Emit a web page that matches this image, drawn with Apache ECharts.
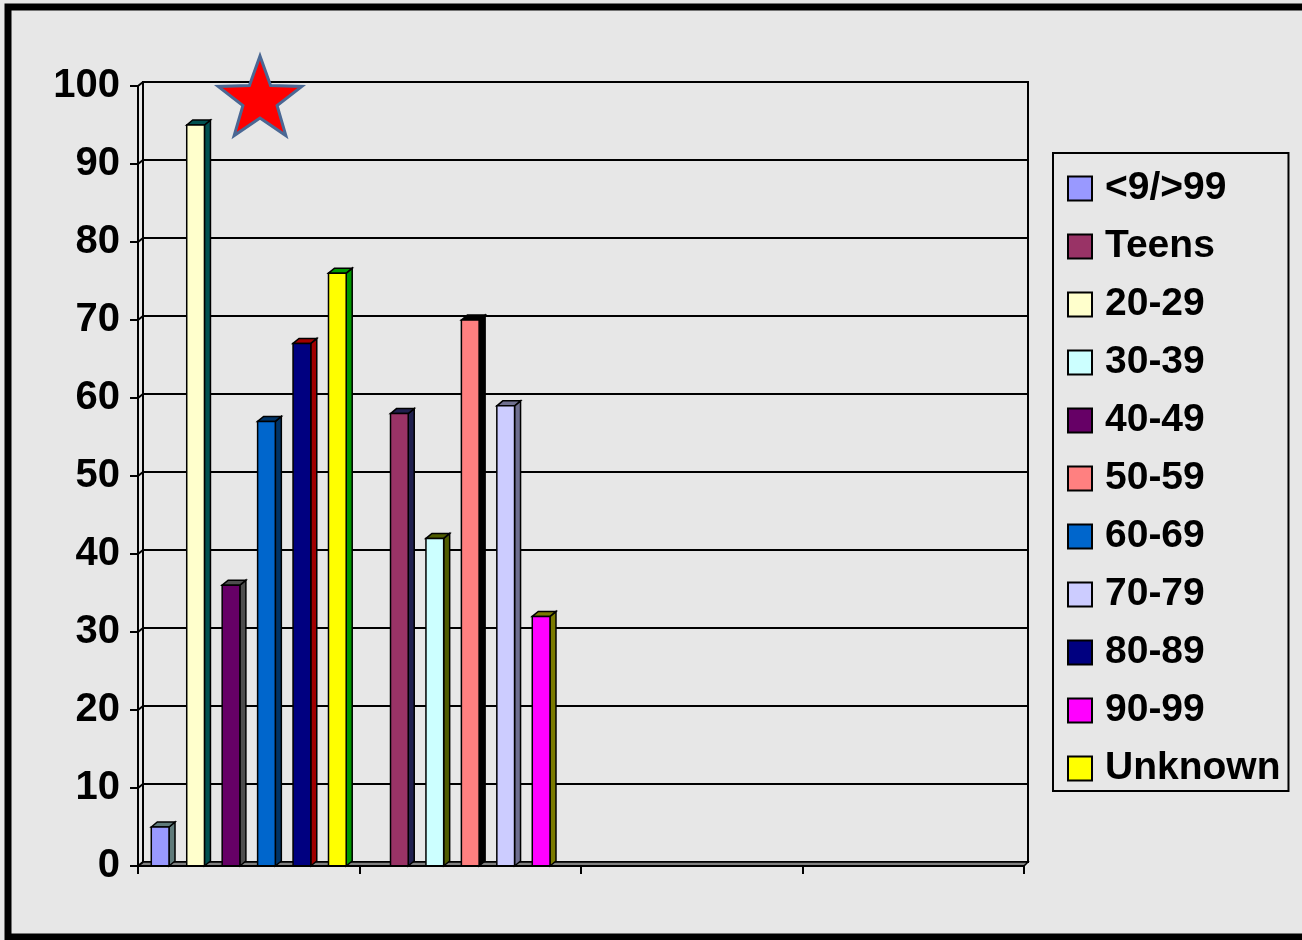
<!DOCTYPE html>
<html>
<head>
<meta charset="utf-8">
<title>Age groups</title>
<script src="https://cdn.jsdelivr.net/npm/echarts@6/dist/echarts.min.js"></script>
<style>
  html, body {
    margin: 0;
    padding: 0;
    background: #e7e7e7;
  }
  #main {
    width: 1302px;
    height: 940px;
  }
</style>
</head>
<body>
<div id="main"></div>
<script>
// data
var categories = ['1', '2', '3', '4'];
var seriesNames = ['<9/>99', 'Teens', '20-29', '30-39', '40-49', '50-59', '60-69', '70-79', '80-89', '90-99', 'Unknown'];
var under9 = [5, null, null, null];
var teens = [null, 58, null, null];
var age20 = [95, null, null, null];
var age30 = [null, 42, null, null];
var age40 = [36, null, null, null];
var age50 = [null, 70, null, null];
var age60 = [57, null, null, null];
var age70 = [null, 59, null, null];
var age80 = [67, null, null, null];
var age90 = [null, 32, null, null];
var unknown = [76, null, null, null];
var seriesValues = [under9, teens, age20, age30, age40, age50, age60, age70, age80, age90, unknown];
var yTicks = [0, 10, 20, 30, 40, 50, 60, 70, 80, 90, 100];

// colours: front face and side/top face
var frontColors = ['#9999ff', '#993366', '#ffffcc', '#ccffff', '#660066', '#ff8080', '#0066cc', '#ccccff', '#000080', '#ff00ff', '#ffff00'];
var sideColors = ['#5f7a7a', '#20204e', '#005050', '#4f5c00', '#4d4d4d', '#000000', '#003366', '#6f6f8f', '#a00000', '#7a7a00', '#009900'];

var FONT = 'Liberation Sans, Arial, sans-serif';
var GAP = 0.12;      // category gap share
var DX = 6, DY = 5;  // 3d depth

var chart = echarts.init(document.getElementById('main'));

function renderBar(params, api) {
  var v = api.value(1);
  if (v == null || isNaN(v)) {
    return;
  }
  var i = params.seriesIndex;
  var base = api.coord([api.value(0), 0]);
  var top = api.coord([api.value(0), v]);
  var band = api.size([1, 0])[0];
  var slot = band * (1 - GAP) / seriesNames.length;
  var x0 = base[0] - band * (1 - GAP) / 2 + i * slot;
  var x1 = x0 + slot;
  var stroke = { stroke: '#000', lineWidth: 1.5 };
  return {
    type: 'group',
    children: [
      {
        type: 'polygon',
        shape: { points: [[x1, top[1]], [x1 + DX, top[1] - DY], [x1 + DX, base[1] - DY], [x1, base[1]]] },
        style: Object.assign({ fill: sideColors[i] }, stroke)
      },
      {
        type: 'polygon',
        shape: { points: [[x0, top[1]], [x0 + DX, top[1] - DY], [x1 + DX, top[1] - DY], [x1, top[1]]] },
        style: Object.assign({ fill: sideColors[i] }, stroke)
      },
      {
        type: 'rect',
        shape: { x: x0, y: top[1], width: slot, height: base[1] - top[1] },
        style: Object.assign({ fill: frontColors[i] }, stroke)
      }
    ]
  };
}

var series = seriesNames.map(function (name, i) {
  var data = [];
  seriesValues[i].forEach(function (v, c) {
    if (v != null) {
      data.push([c, v]);
    }
  });
  return {
    name: name,
    type: 'custom',
    xAxisIndex: 0,
    yAxisIndex: 0,
    renderItem: renderBar,
    itemStyle: { color: frontColors[i] },
    encode: { x: 0, y: 1 },
    data: data,
    z: 10
  };
});

// star points
function starPoints(cx, cy, R, r) {
  var pts = [];
  for (var k = 0; k < 10; k++) {
    var a = -Math.PI / 2 + k * Math.PI / 5;
    var rad = k % 2 === 0 ? R : r;
    pts.push([cx + rad * Math.cos(a), cy + rad * Math.sin(a)]);
  }
  return pts;
}

var option = {
  backgroundColor: '#e7e7e7',
  animation: false,
  textStyle: { fontFamily: FONT },
  grid: [
    { left: 138, right: 278, top: 86, bottom: 74 },
    { left: 143, right: 274, top: 82, bottom: 78, show: true, borderColor: '#000', borderWidth: 2, backgroundColor: 'transparent' }
  ],
  legend: {
    orient: 'vertical',
    left: 1053,
    top: 153,
    padding: [16, 8, 3, 14],
    itemWidth: 24,
    itemHeight: 24,
    itemGap: 19,
    icon: 'rect',
    borderColor: '#000',
    borderWidth: 2,
    itemStyle: { borderColor: '#000', borderWidth: 2 },
    textStyle: {
      fontFamily: FONT,
      fontSize: 39,
      fontWeight: 'bold',
      color: '#000',
      lineHeight: 39,
      padding: [0, 0, 0, 8]
    },
    data: seriesNames
  },
  xAxis: [
    {
      type: 'category',
      gridIndex: 0,
      data: categories,
      axisLine: { show: true, onZero: false, lineStyle: { color: '#000', width: 2 } },
      axisTick: { show: true, inside: false, length: 8, lineStyle: { color: '#000', width: 2 } },
      axisLabel: { show: false },
      splitLine: { show: false },
      z: 20
    },
    {
      type: 'category',
      gridIndex: 1,
      data: categories,
      show: false
    }
  ],
  yAxis: [
    {
      type: 'value',
      gridIndex: 0,
      min: 0,
      max: 100,
      interval: 10,
      axisLine: { show: true, lineStyle: { color: '#000', width: 2 } },
      axisTick: { show: true, length: 8, lineStyle: { color: '#000', width: 2 } },
      axisLabel: { margin: 18, fontFamily: FONT, fontSize: 40, fontWeight: 'bold', color: '#000' },
      splitLine: { show: false }
    },
    {
      type: 'value',
      gridIndex: 1,
      min: 0,
      max: 100,
      interval: 10,
      axisLine: { show: false },
      axisTick: { show: false },
      axisLabel: { show: false },
      splitLine: { show: true, lineStyle: { color: '#000', width: 2 } }
    }
  ],
  graphic: [
    {
      type: 'rect',
      shape: { x: 8, y: 7, width: 1310, height: 930 },
      style: { fill: 'none', stroke: '#000', lineWidth: 7 },
      z: 100
    },
    {
      type: 'polygon',
      shape: { points: [[138, 866], [143, 862], [1028, 862], [1024, 866]] },
      style: { fill: '#808080', stroke: '#000', lineWidth: 1.5 },
      z: 5
    },
    {
      type: 'polygon',
      shape: { points: starPoints(260, 100, 44, 18) },
      style: { fill: '#ff0000', stroke: '#4a6894', lineWidth: 3 },
      z: 50
    }
  ],
  series: series
};

chart.setOption(option);

// little diagonal joins between the front axis and the back wall
var joins = yTicks.map(function (t) {
  var p = chart.convertToPixel({ yAxisIndex: 0 }, t);
  return {
    type: 'line',
    shape: { x1: 138, y1: p, x2: 143, y2: p - 4 },
    style: { stroke: '#000', lineWidth: 2 },
    z: 5
  };
});
chart.setOption({ graphic: option.graphic.concat(joins) });
</script>
</body>
</html>
